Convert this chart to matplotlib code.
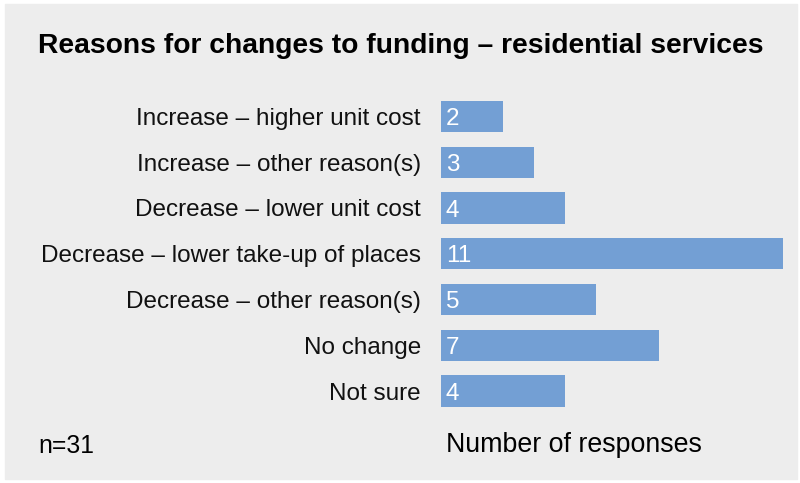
import matplotlib.pyplot as plt
from matplotlib.patches import Rectangle

categories = ['Increase – higher unit cost', 'Increase – other reason(s)',
              'Decrease – lower unit cost', 'Decrease – lower take-up of places',
              'Decrease – other reason(s)', 'No change', 'Not sure']
values = [2, 3, 4, 11, 5, 7, 4]

plt.rcParams['font.family'] = ['Liberation Sans', 'DejaVu Sans']

fig = plt.figure(figsize=(8, 4.83), dpi=100)
fig.patch.set_facecolor('white')
# gray panel
bg = Rectangle((5 / 800, 1 - 479 / 483), 792 / 800, 475 / 483,
               transform=fig.transFigure, color='#ededed', zorder=-10)
fig.add_artist(bg)

ax = fig.add_axes([441 / 800, 1 - 413.9 / 483, 342 / 800, 320.3 / 483])
ax.set_zorder(5)
ax.set_facecolor('none')
ypos = list(range(len(categories)))
ax.barh(ypos, values, height=0.68, color='#739fd4')
ax.set_xlim(0, 11)
ax.set_ylim(6.5, -0.5)
ax.set_yticks(ypos)
ax.set_yticklabels(categories, fontsize=17.5, color='#111111')
ax.tick_params(axis='y', length=0, pad=14.4)
ax.set_xticks([])
for s in ax.spines.values():
    s.set_visible(False)

for y, v in zip(ypos, values):
    ax.text(0.15, y + 0.06, str(v), color='white', fontsize=17.5, va='center', ha='left')

fig.text(38 / 800, 1 - 46 / 483, 'Reasons for changes to funding – residential services',
         fontsize=20.3, fontweight='bold', va='center', ha='left')
fig.text(38 / 800, 1 - 446 / 483, 'n=31', fontsize=17.8, va='center', ha='left')
fig.text(446 / 800, 1 - 445 / 483, 'Number of responses', fontsize=19.3, va='center', ha='left')

fig.savefig('out.png', dpi=100)
